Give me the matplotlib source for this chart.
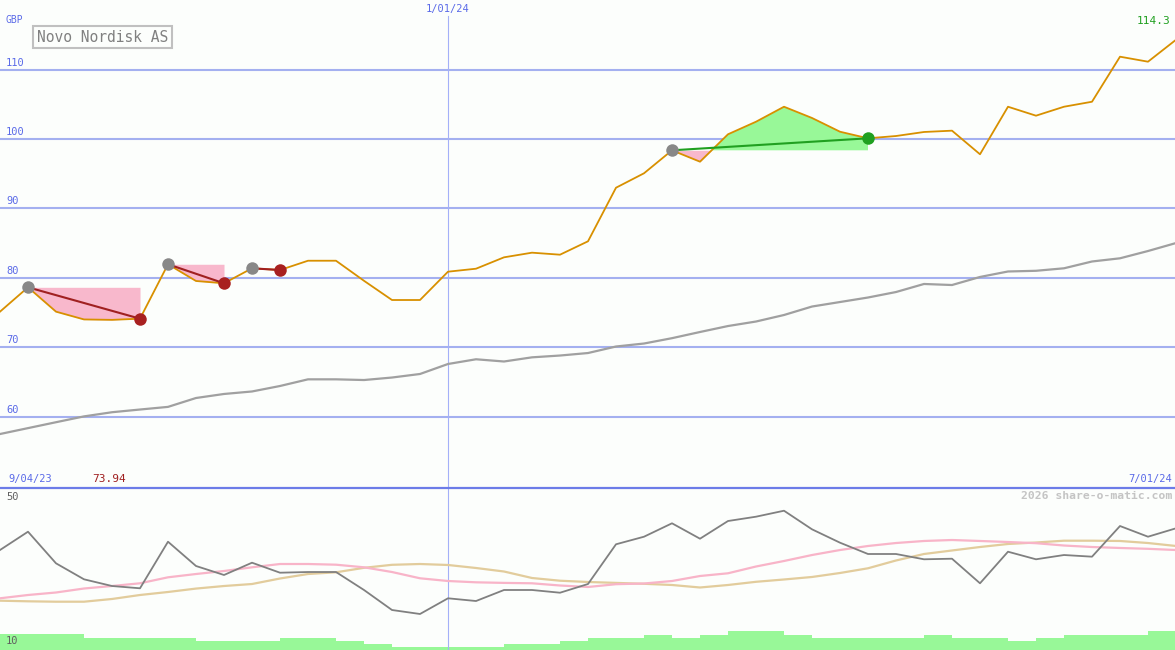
import matplotlib
matplotlib.use("Agg")
import matplotlib.pyplot as plt
import numpy as np

# Data (weekly closes, GBP)
price = [75.12, 78.63, 75.12, 74.00, 73.94, 74.11, 81.95, 79.54, 79.21, 81.37,
         81.12, 82.46, 82.46, 79.57, 76.80, 76.80, 80.88, 81.31, 82.95, 83.62,
         83.33, 85.26, 92.98, 95.06, 98.37, 96.73, 100.68, 102.49, 104.65, 103.03,
         101.05, 100.10, 100.43, 101.01, 101.20, 97.80, 104.65, 103.36, 104.65, 105.37,
         111.86, 111.14, 114.30]
ma_long = [57.49, 58.34, 59.19, 60.03, 60.63, 61.02, 61.40, 62.68, 63.26, 63.62,
           64.41, 65.37, 65.37, 65.27, 65.63, 66.14, 67.58, 68.26, 67.94, 68.54,
           68.80, 69.16, 70.10, 70.53, 71.30, 72.19, 73.05, 73.70, 74.64, 75.86,
           76.51, 77.16, 77.95, 79.11, 78.96, 80.12, 80.91, 81.01, 81.37, 82.35,
           82.81, 83.86, 85.01]

# lower panel
osc = [35.10, 40.15, 31.43, 27.02, 25.17, 24.54, 37.39, 30.69, 28.21, 31.60,
       28.84, 29.03, 29.03, 24.07, 18.55, 17.45, 21.78, 21.03, 24.07, 24.07,
       23.32, 25.72, 36.68, 38.77, 42.47, 38.22, 43.10, 44.29, 45.94, 40.81,
       37.12, 34.00, 34.00, 32.54, 32.70, 25.92, 34.63, 32.54, 33.72, 33.26,
       41.72, 38.77, 41.09]
osc_pink = [21.78, 22.69, 23.38, 24.48, 25.17, 25.92, 27.57, 28.48, 29.31, 30.33,
            31.24, 31.24, 31.05, 30.33, 29.03, 27.30, 26.55, 26.19, 26.03, 25.92,
            25.31, 24.90, 25.67, 25.86, 26.55, 27.93, 28.68, 30.55, 32.07, 33.72,
            35.10, 36.21, 37.03, 37.59, 37.86, 37.59, 37.31, 36.98, 36.34, 35.93,
            35.66, 35.43, 35.10]
osc_tan = [21.12, 20.95, 20.84, 20.84, 21.59, 22.69, 23.52, 24.46, 25.17, 25.72,
           27.24, 28.48, 28.95, 30.19, 31.02, 31.24, 30.97, 30.14, 29.17, 27.38,
           26.63, 26.28, 26.03, 25.78, 25.45, 24.76, 25.45, 26.33, 26.97, 27.66,
           28.76, 30.06, 32.21, 34.00, 34.97, 35.93, 36.76, 37.17, 37.67, 37.67,
           37.59, 37.03, 36.21]
volume = [16, 16, 16, 11.7, 11.7, 11.7, 11.7, 9, 9, 9,
          11.7, 11.7, 9, 6, 2.7, 2.7, 2.7, 2.7, 6, 6,
          9, 11.7, 11.7, 15, 11.7, 15, 19, 19, 15, 11.7,
          11.7, 11.7, 11.7, 15, 11.7, 11.7, 9, 11.7, 15, 15,
          15, 19]

trade_entry = [1, 6, 9, 24]
trade_exit = [5, 8, 10, 31]

grid_levels = [60, 70, 80, 90, 100, 110]
grid_labels = ["60", "70", "80", "90", "100", "110"]

W, H = 1175, 650
BG = "#fcfefc"
GRID = "#a4b0f0"
BLUE = "#5a6ae8"
FONT = "DejaVu Sans Mono"

fig = plt.figure(figsize=(W / 100, H / 100), dpi=100, facecolor=BG)
ax = fig.add_axes([0, (H - 487) / H, 1, 487 / H], facecolor=BG)
ax2 = fig.add_axes([0, 0, 1, 162 / H], facecolor=BG)

x = np.arange(len(price))
xmax = W / 28

# main panel
for lv, lab in zip(grid_levels, grid_labels):
    ax.axhline(lv, color=GRID, lw=1.5, zorder=1)
    ax.text(6 / W, lv + 0.3, lab, transform=ax.get_yaxis_transform(),
            fontsize=7.5, color=BLUE, family=FONT, va="bottom", ha="left")
ax.axvline(16, ymax=1 - 16 / 487, color="#a4b0f8", lw=0.8, zorder=1)

ax.plot(x, ma_long, color="#a0a0a0", lw=1.6, zorder=2)

for e, s in zip(trade_entry, trade_exit):
    xs = x[e:s + 1]
    ps = np.array(price[e:s + 1])
    lvl = price[e]
    ax.fill_between(xs, lvl, ps, where=ps <= lvl, interpolate=True,
                    color="#f8b8cc", lw=0, zorder=2)
    ax.fill_between(xs, lvl, ps, where=ps >= lvl, interpolate=True,
                    color="#98f898", lw=0, zorder=2)

ax.plot(x, price, color="#d89000", lw=1.3, zorder=3)

for e, s in zip(trade_entry, trade_exit):
    win = price[s] > price[e]
    c = "#20a020" if win else "#a02020"
    ax.plot([e, s], [price[e], price[s]], color=c, lw=1.5, zorder=4)
    ax.plot(e, price[e], "o", ms=9, color="#888888", mec="none", zorder=5)
    ax.plot(s, price[s], "o", ms=9, color="#20a020" if win else "#a82020",
            mec="none", zorder=5)

ax.set_xlim(0, xmax)
ax.set_ylim(100 - (487 - 139) / 6.94, 100 + 139 / 6.94)
ax.axis("off")

# lower panel
ax2.axvline(16, color="#a4b0f8", lw=0.8, zorder=1)
axv = ax2.twinx()
axv.bar(x[:-1], volume, width=1.0, align="edge", color="#98f898", lw=0, zorder=1)
axv.set_ylim(0, 162)
axv.axis("off")
ax2.set_zorder(axv.get_zorder() + 1)
ax2.patch.set_visible(False)

ax2.plot(x, osc_tan, color="#e2cc9c", lw=1.6, zorder=2)
ax2.plot(x, osc_pink, color="#f8b4c8", lw=1.6, zorder=2)
ax2.plot(x, osc, color="#808080", lw=1.3, zorder=3)
ax2.set_xlim(0, xmax)
ax2.set_ylim(50 - 154 / 3.625, 50 + 8 / 3.625)
ax2.axis("off")

# separator
fig.add_artist(plt.Line2D([0, 1], [1 - 487.5 / H] * 2, color="#6c7ce8", lw=1.6,
                          transform=fig.transFigure))

def ftext(px, py, s, **kw):
    kw.setdefault("family", FONT)
    fig.text(px / W, 1 - py / H, s, va="center", **kw)

ftext(6, 20, "GBP", fontsize=7, color=BLUE)
ftext(448, 9, "1/01/24", fontsize=7.5, color=BLUE, ha="center")
ftext(1170, 21, "114.3", fontsize=8, color="#20a020", ha="right")
ftext(37, 37, "Novo Nordisk AS", fontsize=10.5, color="#808080",
      bbox=dict(boxstyle="square,pad=0.25", fc=BG, ec="#c0c0c0", lw=1.5))
ftext(8, 479, "9/04/23", fontsize=7.5, color=BLUE)
ftext(92, 479, "73.94", fontsize=8, color="#a02020")
ftext(1172, 479, "7/01/24", fontsize=7.5, color=BLUE, ha="right")
ftext(6, 497, "50", fontsize=7.5, color="#606060")
ftext(6, 641, "10", fontsize=7.5, color="#606060")
ftext(1172, 496, "2026 share-o-matic.com", fontsize=8.2, color="#c4c4c4",
      ha="right", weight="bold")

fig.savefig("out.png", dpi=100, facecolor=BG)
